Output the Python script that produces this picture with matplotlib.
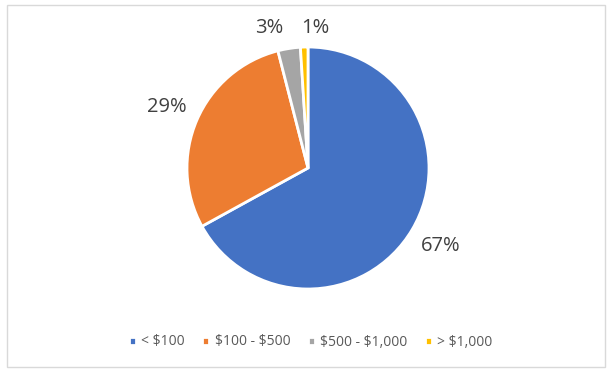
import matplotlib
matplotlib.use("Agg")
import matplotlib.pyplot as plt
from matplotlib.patches import Rectangle
import numpy as np

categories = ["< $100", "$100 - $500", "$500 - $1,000", "> $1,000"]
values = [67, 29, 3, 1]
colors = ["#4472C4", "#ED7D31", "#A5A5A5", "#FFC000"]

plt.rcParams['font.family'] = ['Open Sans', 'DejaVu Sans']
plt.rcParams['text.parse_math'] = False

W, H = 615, 376
fig = plt.figure(figsize=(W/100, H/100), dpi=100)

# border
fig.patches.append(Rectangle((7/W, 1-367/H), 598/W, 362/H, transform=fig.transFigure,
                             fill=False, edgecolor="#D9D9D9", linewidth=1))

cx, cy, r = 308, 168, 121
ax = fig.add_axes([(cx-r)/W, 1-(cy+r)/H, 2*r/W, 2*r/H])
wedges, texts, autotexts = ax.pie(values, colors=colors, startangle=90, counterclock=False,
                                  autopct=lambda p: f"{p:.0f}%", pctdistance=1.27,
                                  wedgeprops=dict(edgecolor="white", linewidth=2),
                                  textprops=dict(color="#404040", fontsize=14.5))
ax.set_aspect("equal")
ax.set_xlim(-1, 1); ax.set_ylim(-1, 1)
# nudge small-slice labels apart (as Excel best-fit does)
x, y = autotexts[2].get_position()
autotexts[2].set_position((x - 0.12, 1.16))
x, y = autotexts[3].get_position()
autotexts[3].set_position((x + 0.1, 1.16))

leg = fig.legend(wedges, categories, loc="center", bbox_to_anchor=(0.505, 1-342/H), ncol=4,
                 frameon=False, fontsize=10, handlelength=0.5, handleheight=0.5,
                 handletextpad=0.4, columnspacing=1.25, labelcolor="#595959")
fig.savefig("out.png", dpi=100)
